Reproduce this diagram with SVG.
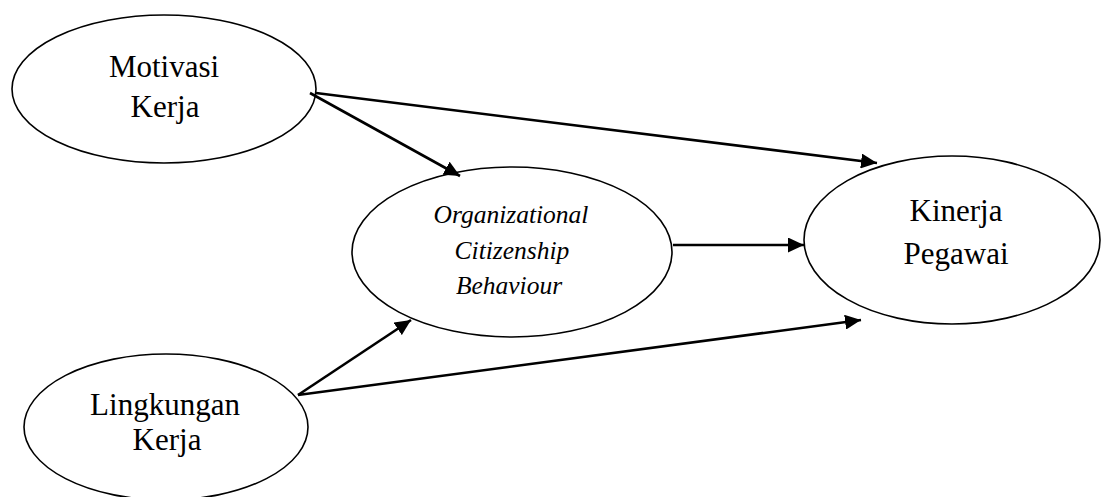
<svg xmlns="http://www.w3.org/2000/svg" width="1101" height="497" viewBox="0 0 1101 497">
<style>
.node{fill:#fff;stroke:#000;stroke-width:1.6}
.lbl{font-family:"Liberation Serif","Times New Roman",serif;font-size:31px;fill:#000;text-anchor:middle}
.it{font-size:25.5px;font-style:italic}
.edge{stroke:#000;stroke-width:2.6;fill:none;marker-end:url(#arr)}
</style>
<defs>
<marker id="arr" markerUnits="userSpaceOnUse" markerWidth="16" markerHeight="15" refX="16" refY="7.5" orient="auto">
<path d="M0,0 L16,7.5 L0,15 z" fill="#000"/>
</marker>
</defs>
<rect width="1101" height="497" fill="#fff"/>
<g id="motivasi">
<ellipse class="node" cx="164" cy="89" rx="152" ry="74"/>
<text class="lbl" x="164" y="77">Motivasi</text>
<text class="lbl" x="165" y="117">Kerja</text>
</g>
<g id="ocb">
<ellipse class="node" cx="512" cy="252" rx="160" ry="85"/>
<text class="lbl it" x="511" y="223">Organizational</text>
<text class="lbl it" x="512" y="259">Citizenship</text>
<text class="lbl it" x="509" y="294">Behaviour</text>
</g>
<g id="kinerja">
<ellipse class="node" cx="952" cy="240" rx="148" ry="84"/>
<text class="lbl" x="956" y="221">Kinerja</text>
<text class="lbl" x="956" y="264">Pegawai</text>
</g>
<g id="lingkungan">
<ellipse class="node" cx="166" cy="427" rx="142" ry="73"/>
<text class="lbl" x="165" y="415">Lingkungan</text>
<text class="lbl" x="167" y="450">Kerja</text>
</g>
<g id="connectors">
<line class="edge" x1="310" y1="93" x2="460" y2="176"/>
<line class="edge" x1="316" y1="93" x2="877" y2="163"/>
<line class="edge" x1="673" y1="245" x2="804" y2="245"/>
<line class="edge" x1="298" y1="395" x2="411" y2="320"/>
<line class="edge" x1="298" y1="395" x2="861" y2="320"/>
</g>
</svg>
